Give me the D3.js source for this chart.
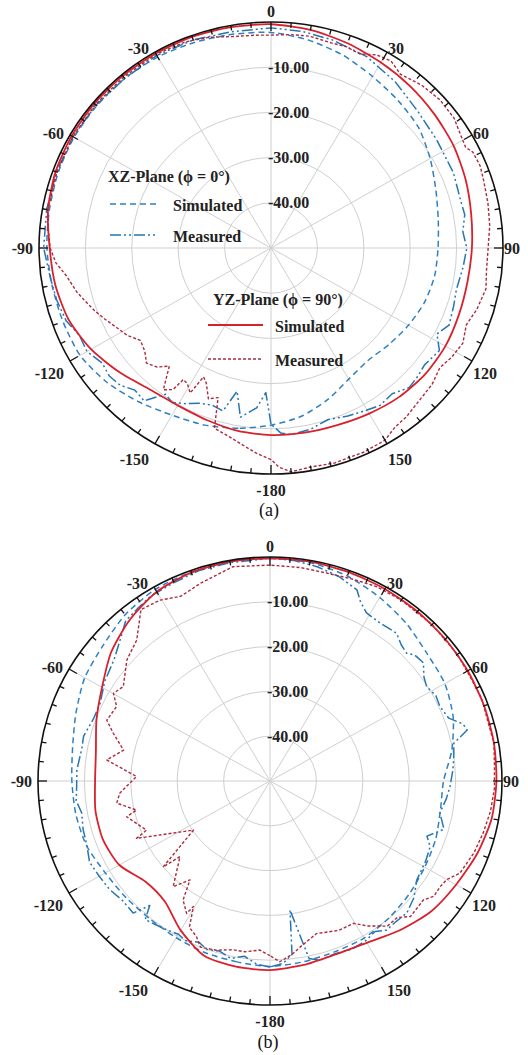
<!DOCTYPE html>
<html>
<head>
<meta charset="utf-8">
<script src="https://cdn.jsdelivr.net/npm/d3@7"></script>
<style>
  body { margin: 0; background: #fff; }
  svg { display: block; }
</style>
</head>
<body>
<svg id="chart" width="528" height="1055"></svg>
<script>
// ---------- Radiation pattern data: [angle (deg), gain (dB)] ----------

// (a) XZ-plane, simulated
const aXzSim = [[-180,-10.8],[-170,-9.5],[-160,-8.3],[-150,-7.3],[-140,-5.6],[-130,-3.8],[-120,-2.5],[-110,-2.3],[-100,-2.1],[-90,-1.7],[-80,-1.5],[-70,-1.2],[-60,-1.0],[-50,-1.0],[-40,-1.0],[-30,-1.2],[-20,-1.6],[-10,-2.0],[0,-2.3],[10,-3.3],[20,-4.6],[30,-6.2],[40,-7.4],[50,-8.5],[60,-10.4],[70,-12.2],[80,-13.4],[90,-14.0],[100,-14.2],[110,-14.8],[120,-15.8],[130,-16.8],[140,-17.5],[150,-16.5],[160,-14.3],[170,-12.2]];

// (a) XZ-plane, measured
const aXzMeas = [[-180,-11],[-178,-18],[-175,-14.5],[-170,-12],[-167,-17.5],[-164,-12.5],[-160,-13],[-156,-12.4],[-152,-11],[-148,-9.7],[-145,-10.5],[-141,-6.5],[-137,-7],[-133,-5.5],[-129,-5.1],[-125,-5.6],[-120,-4.2],[-115,-4.4],[-110,-3],[-104,-2.4],[-98,-2],[-90,-1],[-80,-0.9],[-70,-0.8],[-60,-0.7],[-50,-0.8],[-40,-1.0],[-30,-0.8],[-20,-1.0],[-10,-1.4],[0,-1.3],[8,-1.6],[16,-2.1],[26,-2.9],[36,-4.5],[46,-6.2],[56,-7.0],[67,-7.3],[75,-7.8],[80,-7.6],[85,-8.5],[90,-7.8],[96,-8.4],[103,-9],[108,-8.6],[114,-8],[118,-9.5],[122,-7.2],[128,-8],[132,-7.5],[136,-7.1],[141,-8.5],[146,-8],[150,-8.6],[156,-9.3],[162,-10.1],[168,-9],[174,-8.5],[177,-9]];

// (a) YZ-plane, simulated
const aYzSim = [[-180,-8.6],[-170,-8.9],[-160,-9.5],[-150,-9.8],[-140,-9.2],[-130,-7.3],[-120,-5.2],[-110,-3.6],[-100,-2.8],[-90,-2.3],[-80,-1.2],[-70,-0.6],[-60,-0.4],[-50,-0.3],[-40,-0.3],[-30,-0.3],[-20,-0.3],[-10,-0.4],[0,-0.5],[10,-1.0],[20,-1.8],[30,-2.6],[40,-3.3],[50,-4.0],[60,-4.6],[70,-5.4],[80,-6.2],[90,-6.7],[100,-7.0],[110,-6.9],[120,-6.6],[130,-6.6],[140,-7.0],[150,-7.7],[160,-8.3],[170,-8.5]];

// (a) YZ-plane, measured
const aYzMeas = [[-180,-3.2],[-176,-4.5],[-172,-6],[-167,-7.5],[-163,-8.3],[-161,-15],[-158,-14],[-155,-17],[-153,-18],[-151.5,-13.5],[-149,-15],[-147,-15.3],[-146,-12.2],[-143.5,-11],[-140,-15.9],[-137,-14],[-133.5,-13],[-130,-14.5],[-126,-15.2],[-122,-13.5],[-119,-12.7],[-114,-11],[-110,-9.5],[-107,-8.5],[-103,-7],[-98,-5.5],[-94,-3.5],[-90,-2.4],[-85,-1.8],[-80,-1.2],[-70,-0.9],[-60,-0.7],[-50,-0.6],[-40,-0.6],[-30,-0.5],[-22,-0.8],[-16,-1.5],[-10,-2.5],[-4,-2.8],[0,-2.9],[5,-2.6],[10,-2.4],[16,-2.8],[20,-2.6],[24,-3],[28,-1.6],[32,-1.2],[36,-2.5],[42,-1.5],[48,-1],[54,-1.2],[58,-2],[62,-2.5],[64,-1.6],[68,-1.4],[72,-1.8],[78,-2.2],[84,-2.6],[90,-3.2],[96,-3.3],[101,-2.8],[107,-3.6],[112,-4.6],[117,-3.6],[122,-4.2],[126,-5],[131,-4],[136,-3.6],[142,-2.6],[146,-2.2],[150,-0.9],[156,-0.6],[164,-0.5],[170,-0.8],[175,-0.3],[178,-1.5]];

// (b) XZ-plane, simulated
const bXzSim = [[-180,-8.6],[-170,-9.0],[-160,-9.2],[-150,-9.6],[-140,-9.8],[-130,-9.5],[-120,-9.0],[-110,-7.9],[-100,-7.5],[-90,-7.3],[-80,-6.8],[-70,-5.5],[-60,-3.9],[-50,-3.0],[-40,-1.5],[-30,-0.6],[-20,-0.4],[-10,-0.3],[0,-0.3],[10,-0.5],[20,-1.3],[30,-2.7],[40,-4.2],[50,-5.8],[60,-6.5],[70,-8.0],[80,-10.2],[90,-12.6],[100,-12.7],[110,-12.0],[120,-11.5],[130,-10.8],[140,-10.1],[150,-9.5],[160,-9.4],[170,-9.0]];

// (b) XZ-plane, measured
const bXzMeas = [[-180,-8.5],[-176,-9],[-172,-10.5],[-168,-9.5],[-164,-10.5],[-160,-10],[-157,-10.9],[-153,-10],[-150,-10.5],[-146,-10],[-142,-9.5],[-139,-9],[-137,-12],[-135,-8.3],[-130,-8.5],[-125,-7.8],[-120,-7.5],[-115,-7.1],[-110,-8],[-105,-8.3],[-100,-8.8],[-96,-8],[-92,-8.3],[-86.6,-8.3],[-80,-8.8],[-76,-8.6],[-70,-9.5],[-64.7,-9.5],[-58,-8],[-51,-6.8],[-46,-5],[-41,-2.6],[-36,-2.0],[-32,-1.4],[-25,-1.1],[-18,-0.6],[-10,-0.5],[0,-0.3],[6,-0.5],[12,-1.1],[18,-2],[23.7,-3.4],[26,-5.5],[29,-7.1],[34,-7.5],[39.6,-7.2],[43,-8.5],[45.9,-9],[48,-8],[51.4,-7.7],[55,-9.5],[58,-10.2],[62,-9.5],[65.6,-9.8],[70,-9],[73,-6.5],[75,-6],[78,-9.5],[82,-10],[86.4,-10.5],[92,-11.2],[96,-11.8],[101,-12.7],[106,-11],[110,-14],[113,-12.5],[118,-12],[125,-11.4],[130,-9.5],[135,-8.3],[139,-8.5],[143,-8.3],[146,-9.5],[150,-8.8],[155,-8.5],[160,-9],[165,-8.6],[168,-9.5],[171.5,-20.9],[173,-11],[176,-9.2]];

// (b) YZ-plane, simulated
const bYzSim = [[-180,-7.8],[-170,-7.9],[-160,-8.5],[-150,-11.5],[-140,-14.8],[-130,-15],[-120,-12.5],[-110,-11.7],[-100,-11.8],[-90,-12.3],[-80,-11.9],[-70,-10.2],[-60,-8.2],[-50,-5.3],[-40,-3],[-30,-1.2],[-20,-0.5],[-10,-0.3],[0,-0.3],[10,-0.3],[20,-0.4],[30,-0.5],[40,-0.6],[50,-0.7],[60,-0.8],[70,-0.9],[80,-1.0],[90,-1.2],[100,-1.5],[110,-2.5],[120,-3.7],[130,-4.7],[140,-6.5],[150,-8.3],[160,-8.8],[170,-8.3]];

// (b) YZ-plane, measured
const bYzMeas = [[-180,-11],[-176.7,-12.2],[-172,-11.5],[-168,-11.5],[-163,-10.5],[-158,-10],[-155.5,-11.8],[-152,-13],[-149.5,-17.5],[-148.7,-15.4],[-144.8,-17.5],[-142,-22],[-138.5,-18.5],[-131,-24.3],[-129.8,-20],[-123.6,-30.2],[-114,-18.5],[-112.4,-21.2],[-104.5,-18.1],[-102.7,-20.5],[-98.5,-16.6],[-94.8,-17.5],[-88,-21.2],[-82.4,-14.5],[-77.7,-17.7],[-72.5,-14.6],[-68.9,-12.3],[-63.3,-13],[-59.9,-11],[-56.3,-12],[-48.8,-9],[-42.4,-7.4],[-36,-2.7],[-30.4,-3.2],[-25,-4.5],[-18.8,-3.4],[-9.5,-1.5],[0,-1.8],[8,-1.9],[15,-2.0],[22,-1.5],[28,-0.9],[35,-0.7],[45,-0.6],[55,-0.7],[62,-1.0],[68,-0.8],[74,-1.2],[80,-1.0],[86,-1.5],[92,-1.6],[98,-2.0],[104,-2.6],[110,-3.2],[116.7,-4.2],[120,-6],[122.8,-6.4],[126,-6.3],[128.8,-7.6],[135,-7.2],[138,-9],[142,-8.9],[147,-11.4],[150.5,-13.5],[156,-13.5],[163.6,-14.5],[170,-12.4],[173,-11],[177,-9.6]];

// ---------- Axis values ----------
const ringLevels = [-40, -30, -20, -10];
const ringLabels = ["-40.00", "-30.00", "-20.00", "-10.00"];
const spokeAngles = [0, 30, 60, 90, 120, 150, 180, 210, 240, 270, 300, 330];
const angleLabels = ["0", "30", "60", "90", "120", "150", "-180", "-150", "-120", "-90", "-60", "-30"];
const legendGroups = ["XZ-Plane (\u03D5 = 0\u00B0)", "YZ-Plane (\u03D5 = 90\u00B0)"];
const legendEntries = ["Simulated", "Measured"];
const panelCaptions = ["(a)", "(b)"];

// ---------- Styles ----------
const FONT = "'Liberation Serif', 'Times New Roman', serif";
const LABEL_SIZE = 16;
const styles = {
  xzSim:  { color: "#2f80c2", dash: "6,4",            width: 1.5, smooth: true },
  xzMeas: { color: "#2676b3", dash: "11,3,2,3,2,3",   width: 1.5, smooth: false },
  yzSim:  { color: "#d8212c", dash: null,             width: 1.8, smooth: true },
  yzMeas: { color: "#ad2a3c", dash: "3,2",            width: 1.4, smooth: false }
};

const svg = d3.select("#chart");

const rScale = d3.scaleLinear().domain([-50, 0]).range([0, 1]).clamp(true);
const aScale = d3.scaleLinear().domain([0, 360]).range([0, 2 * Math.PI]);

function drawPanel(cfg, series, caption, withLegend) {
  const { cx, cy, rx, ry } = cfg;
  const g = svg.append("g");
  const px = (a, db) => cx + rx * rScale(db) * Math.sin(aScale(a));
  const py = (a, db) => cy - ry * rScale(db) * Math.cos(aScale(a));

  // grid rings
  g.selectAll("ellipse.ring").data(ringLevels).join("ellipse")
    .attr("cx", cx).attr("cy", cy)
    .attr("rx", d => rx * rScale(d)).attr("ry", d => ry * rScale(d))
    .attr("fill", "none").attr("stroke", "#cfcfcf").attr("stroke-width", 1);

  // spokes
  g.selectAll("line.spoke").data(spokeAngles).join("line")
    .attr("x1", cx).attr("y1", cy)
    .attr("x2", d => px(d, 0)).attr("y2", d => py(d, 0))
    .attr("stroke", "#cfcfcf").attr("stroke-width", 1);

  // radial labels
  g.selectAll("text.rlab").data(ringLevels).join("text")
    .attr("x", cx - 3).attr("y", d => cy - ry * rScale(d))
    .attr("dominant-baseline", "central")
    .attr("font-family", FONT).attr("font-weight", "bold").attr("font-size", LABEL_SIZE)
    .attr("fill", "#222")
    .text((d, i) => ringLabels[i]);

  // data curves
  const order = ["xzSim", "xzMeas", "yzMeas", "yzSim"];
  order.forEach(key => {
    const st = styles[key];
    const line = d3.line()
      .x(d => px(d[0], d[1])).y(d => py(d[0], d[1]))
      .curve(st.smooth ? d3.curveCardinalClosed.tension(0.3) : d3.curveLinearClosed);
    g.append("path").datum(series[key])
      .attr("d", line)
      .attr("fill", "none").attr("stroke", st.color)
      .attr("stroke-width", st.width)
      .attr("stroke-dasharray", st.dash)
      .attr("stroke-linejoin", "round");
  });

  // outer boundary
  g.append("ellipse").attr("cx", cx).attr("cy", cy).attr("rx", rx).attr("ry", ry)
    .attr("fill", "none").attr("stroke", "#111").attr("stroke-width", 1.6);

  // angular ticks every 5 degrees, longer at 30 degrees
  const ticks = d3.range(0, 360, 5);
  const tickLen = d => (d % 30 === 0 ? 9 : 5);
  g.selectAll("line.tick").data(ticks).join("line")
    .attr("x1", d => px(d, 0)).attr("y1", d => py(d, 0))
    .attr("x2", d => cx + (rx - tickLen(d)) * Math.sin(aScale(d)))
    .attr("y2", d => cy - (ry - tickLen(d)) * Math.cos(aScale(d)))
    .attr("stroke", "#111").attr("stroke-width", 1.3);

  // angle labels
  g.selectAll("text.alab").data(spokeAngles).join("text")
    .each(function (d, i) {
      const s = Math.sin(aScale(d)), c = Math.cos(aScale(d));
      let x = px(d, 0), y = py(d, 0), anchor = "middle";
      if (s > 0.1) { anchor = "start"; x += 1; }
      else if (s < -0.1) { anchor = "end"; x -= 6; }
      if (c > 0) y += -4 * c - (Math.abs(s) < 0.1 ? 7 : 0);
      else y += 16 * Math.pow(-c, 0.3);
      d3.select(this).attr("x", x).attr("y", y).attr("text-anchor", anchor)
        .attr("dominant-baseline", "central")
        .attr("font-family", FONT).attr("font-weight", "bold").attr("font-size", LABEL_SIZE)
        .attr("fill", "#222").text(angleLabels[i]);
    });

  // caption
  g.append("text").attr("x", cx - 2).attr("y", cfg.captionY)
    .attr("text-anchor", "middle").attr("dominant-baseline", "central")
    .attr("font-family", FONT).attr("font-size", 18).attr("fill", "#111")
    .text(caption);

  if (withLegend) {
    const lg = g.append("g").attr("font-family", FONT).attr("font-weight", "bold")
      .attr("font-size", LABEL_SIZE).attr("fill", "#222");
    const blocks = [
      { title: legendGroups[0], tx: 108, ty: 176, lx1: 110, lx2: 156, textX: 173, rows: [205, 236], keys: ["xzSim", "xzMeas"] },
      { title: legendGroups[1], tx: 213, ty: 299, lx1: 208, lx2: 263, textX: 275, rows: [326, 360], keys: ["yzSim", "yzMeas"] }
    ];
    blocks.forEach(b => {
      lg.append("text").attr("x", b.tx).attr("y", b.ty).attr("dominant-baseline", "central").text(b.title);
      b.rows.forEach((rowY, j) => {
        const st = styles[b.keys[j]];
        lg.append("line").attr("x1", b.lx1).attr("x2", b.lx2).attr("y1", rowY - 1).attr("y2", rowY - 1)
          .attr("stroke", st.color).attr("stroke-width", st.width).attr("stroke-dasharray", st.dash);
        lg.append("text").attr("x", b.textX).attr("y", rowY).attr("dominant-baseline", "central").text(legendEntries[j]);
      });
    });
  }
}

drawPanel({ cx: 271, cy: 248, rx: 232, ry: 226, captionY: 510 },
  { xzSim: aXzSim, xzMeas: aXzMeas, yzSim: aYzSim, yzMeas: aYzMeas }, panelCaptions[0], true);
drawPanel({ cx: 270, cy: 781, rx: 232, ry: 224, captionY: 1042 },
  { xzSim: bXzSim, xzMeas: bXzMeas, yzSim: bYzSim, yzMeas: bYzMeas }, panelCaptions[1], false);
</script>
</body>
</html>
